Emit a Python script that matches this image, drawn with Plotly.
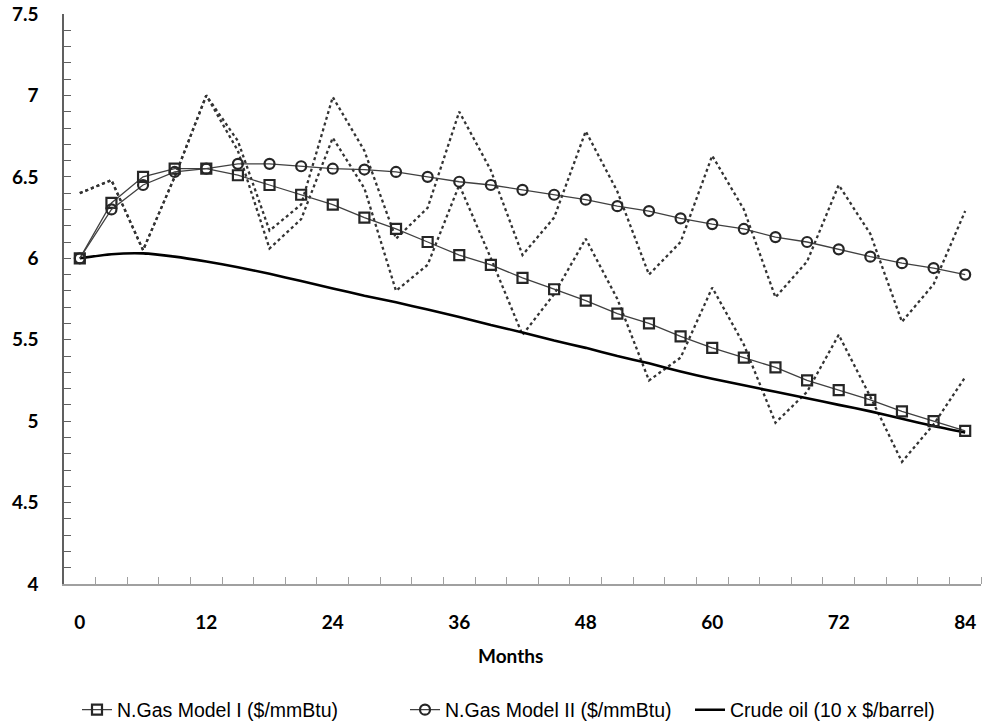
import plotly.graph_objects as go

months = [0, 3, 6, 9, 12, 15, 18, 21, 24, 27, 30, 33, 36, 39, 42, 45, 48, 51, 54, 57,
          60, 63, 66, 69, 72, 75, 78, 81, 84]
x_tick_labels = [0, 12, 24, 36, 48, 60, 72, 84]
x_minor_ticks = [1.5, 4.5, 7.5, 10.5, 13.5, 16.5, 19.5, 22.5, 25.5, 28.5, 31.5, 34.5, 37.5,
                 40.5, 43.5, 46.5, 49.5, 52.5, 55.5, 58.5, 61.5, 64.5, 67.5, 70.5, 73.5,
                 76.5, 79.5, 82.5, 85.5]

model1 = [6.00, 6.34, 6.50, 6.55, 6.55, 6.51, 6.45, 6.39, 6.33, 6.25, 6.18, 6.10, 6.02, 5.96,
          5.88, 5.81, 5.74, 5.66, 5.60, 5.52, 5.45, 5.39, 5.33, 5.25, 5.19, 5.13, 5.06, 5.00, 4.94]
model2 = [6.00, 6.30, 6.45, 6.53, 6.55, 6.58, 6.58, 6.565, 6.55, 6.545, 6.53, 6.50, 6.47, 6.45,
          6.42, 6.39, 6.36, 6.32, 6.29, 6.245, 6.21, 6.18, 6.13, 6.10, 6.055, 6.01, 5.97, 5.94, 5.90]
crude = [6.00, 6.025, 6.03, 6.01, 5.98, 5.945, 5.905, 5.86, 5.815, 5.77, 5.73, 5.685, 5.64, 5.59,
         5.545, 5.495, 5.45, 5.40, 5.355, 5.305, 5.26, 5.22, 5.18, 5.14, 5.10, 5.06, 5.015, 4.97, 4.93]
seasonal2 = [6.40, 6.48, 6.05, 6.50, 7.00, 6.72, 6.17, 6.33, 6.99, 6.66, 6.12, 6.31, 6.90, 6.54,
             6.02, 6.25, 6.78, 6.41, 5.90, 6.10, 6.63, 6.30, 5.76, 5.98, 6.45, 6.15, 5.61, 5.84, 6.29]
seasonal1 = [6.40, 6.48, 6.05, 6.50, 7.00, 6.66, 6.06, 6.24, 6.74, 6.43, 5.80, 5.96, 6.45, 6.00,
             5.53, 5.78, 6.12, 5.75, 5.25, 5.39, 5.82, 5.47, 4.99, 5.18, 5.53, 5.15, 4.75, 4.98, 5.27]

names = ["N.Gas Model I ($/mmBtu)", "N.Gas Model II ($/mmBtu)", "Crude oil (10 x $/barrel)"]

W, H = 982, 725
L, R, T, B = 64, 1, 14, 141

fig = go.Figure()
for s in (seasonal2, seasonal1):
    fig.add_trace(go.Scatter(x=months, y=s, mode="lines", showlegend=False,
                             line=dict(color="#333333", width=2.3, dash="dot"), hoverinfo="skip"))
fig.add_trace(go.Scatter(x=months, y=crude, mode="lines", name=names[2], legend="legend3",
                         line=dict(color="#000000", width=2.6, shape="spline", smoothing=0.6)))
fig.add_trace(go.Scatter(x=months, y=model1, mode="lines+markers", name=names[0], legend="legend",
                         line=dict(color="#404040", width=1.3),
                         marker=dict(symbol="square-open", size=10, color="#262626",
                                     line=dict(width=2.2, color="#262626"))))
fig.add_trace(go.Scatter(x=months, y=model2, mode="lines+markers", name=names[1], legend="legend2",
                         line=dict(color="#404040", width=1.3),
                         marker=dict(symbol="circle-open", size=10, color="#262626",
                                     line=dict(width=2.2, color="#262626"))))

tick_font = dict(family="Lato, 'Open Sans', sans-serif", size=19, color="#000000", weight="bold")
leg_font = dict(family="'Liberation Sans', Arial, sans-serif", size=19.5, color="#000000")

def leg(xpx):
    return dict(x=xpx / W, y=1 - 710 / H, xref="container", yref="container",
                xanchor="left", yanchor="middle", orientation="h", font=leg_font,
                bgcolor="rgba(0,0,0,0)", borderwidth=0, itemwidth=30)

fig.update_layout(
    width=W, height=H, margin=dict(l=L, r=R, t=T, b=B),
    paper_bgcolor="white", plot_bgcolor="white",
    legend=leg(77), legend2=leg(405), legend3=leg(690),
    xaxis=dict(range=[-1.5, 85.5], tickmode="array", tickvals=x_tick_labels,
               ticktext=[str(v) for v in x_tick_labels], ticks="", showgrid=False,
               zeroline=False, showline=True, linecolor="#a0a0a0", linewidth=1.5,
               tickfont=tick_font, ticklabelstandoff=20,
               minor=dict(tickmode="array", tickvals=x_minor_ticks, ticks="inside",
                          ticklen=7, tickwidth=1, tickcolor="#a0a0a0", showgrid=False)),
    yaxis=dict(range=[4, 7.5], tick0=4, dtick=0.5, ticks="inside", ticklen=7, tickwidth=1,
               tickcolor="#606060", showgrid=False, zeroline=False, showline=True,
               linecolor="#606060", linewidth=1.5, tickfont=tick_font, ticklabelstandoff=20,
               minor=dict(dtick=0.1, tick0=4, ticks="inside", ticklen=7, tickwidth=1,
                          tickcolor="#606060", showgrid=False)),
    annotations=[dict(text="<b>Months</b>", x=(510 - L) / (W - L - R), y=(584 - 655) / (H - T - B),
                      xref="paper", yref="paper", xanchor="center", yanchor="middle",
                      showarrow=False,
                      font=dict(family="Lato, 'Open Sans', sans-serif", size=19, color="#000000"))],
)

fig.write_html("out.html")
